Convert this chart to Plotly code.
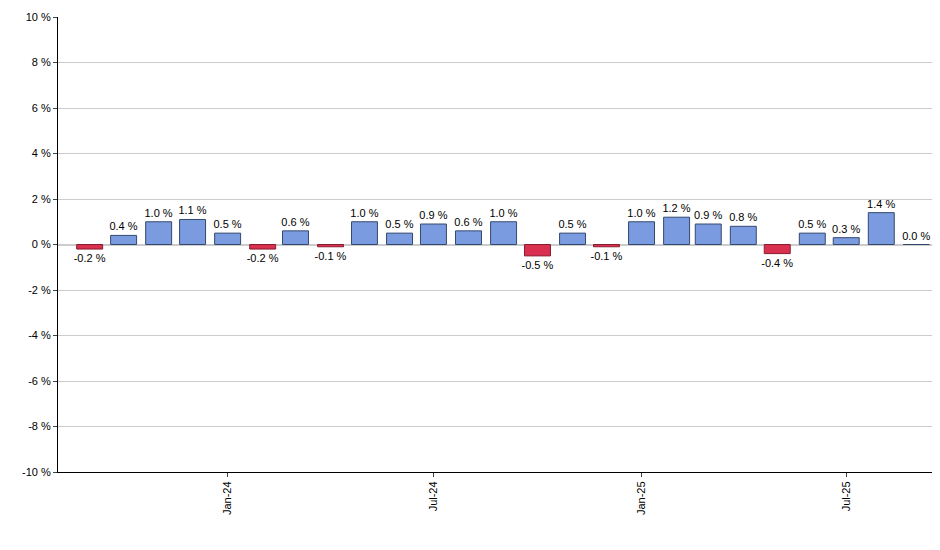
import plotly.graph_objects as go
import pandas as pd

months = pd.date_range("2023-09-01", "2025-09-01", freq="MS").strftime("%Y-%m-%d").tolist()
values = [-0.2, 0.4, 1.0, 1.1, 0.5, -0.2, 0.6, -0.1, 1.0, 0.5, 0.9, 0.6, 1.0,
          -0.5, 0.5, -0.1, 1.0, 1.2, 0.9, 0.8, -0.4, 0.5, 0.3, 1.4, 0.0]
y_ticks = list(range(-10, 11, 2))
y_labels = [f"{t} %" for t in y_ticks]
x_tickvals = ["2024-01-01", "2024-07-01", "2025-01-01", "2025-07-01"]
x_ticktext = ["Jan-24", "Jul-24", "Jan-25", "Jul-25"]

colors = ["#7b9be0" if v >= 0 else "#d8304e" for v in values]
lines = ["#34496e" if v >= 0 else "#8a1c30" for v in values]

fig = go.Figure(go.Bar(
    x=months, y=values,
    marker=dict(color=colors, line=dict(color=lines, width=1)),
    text=[f"{v:.1f} %" for v in values], textposition="outside",
    textfont=dict(size=11, color="black"), constraintext="none", cliponaxis=False,
))
fig.update_layout(
    width=940, height=550, margin=dict(l=50, r=0, t=9, b=86, autoexpand=False),
    plot_bgcolor="white", paper_bgcolor="white", bargap=0.18,
    font=dict(family="Liberation Sans, Arial", size=11, color="black"),
    showlegend=False,
)
fig.update_xaxes(type="date", range=["2023-08-04", "2025-09-29"],
                 tickvals=x_tickvals, ticktext=x_ticktext, tickangle=-90,
                 ticks="outside", ticklen=4, automargin=False,
                 showline=True, linecolor="black", showgrid=False)
fig.update_yaxes(range=[-10, 10], tickvals=y_ticks, ticktext=y_labels,
                 ticks="outside", ticklen=4, automargin=False,
                 showline=True, linecolor="black",
                 gridcolor="#cccccc", zeroline=True, zerolinecolor="#cccccc")
fig.write_html("out.html")
